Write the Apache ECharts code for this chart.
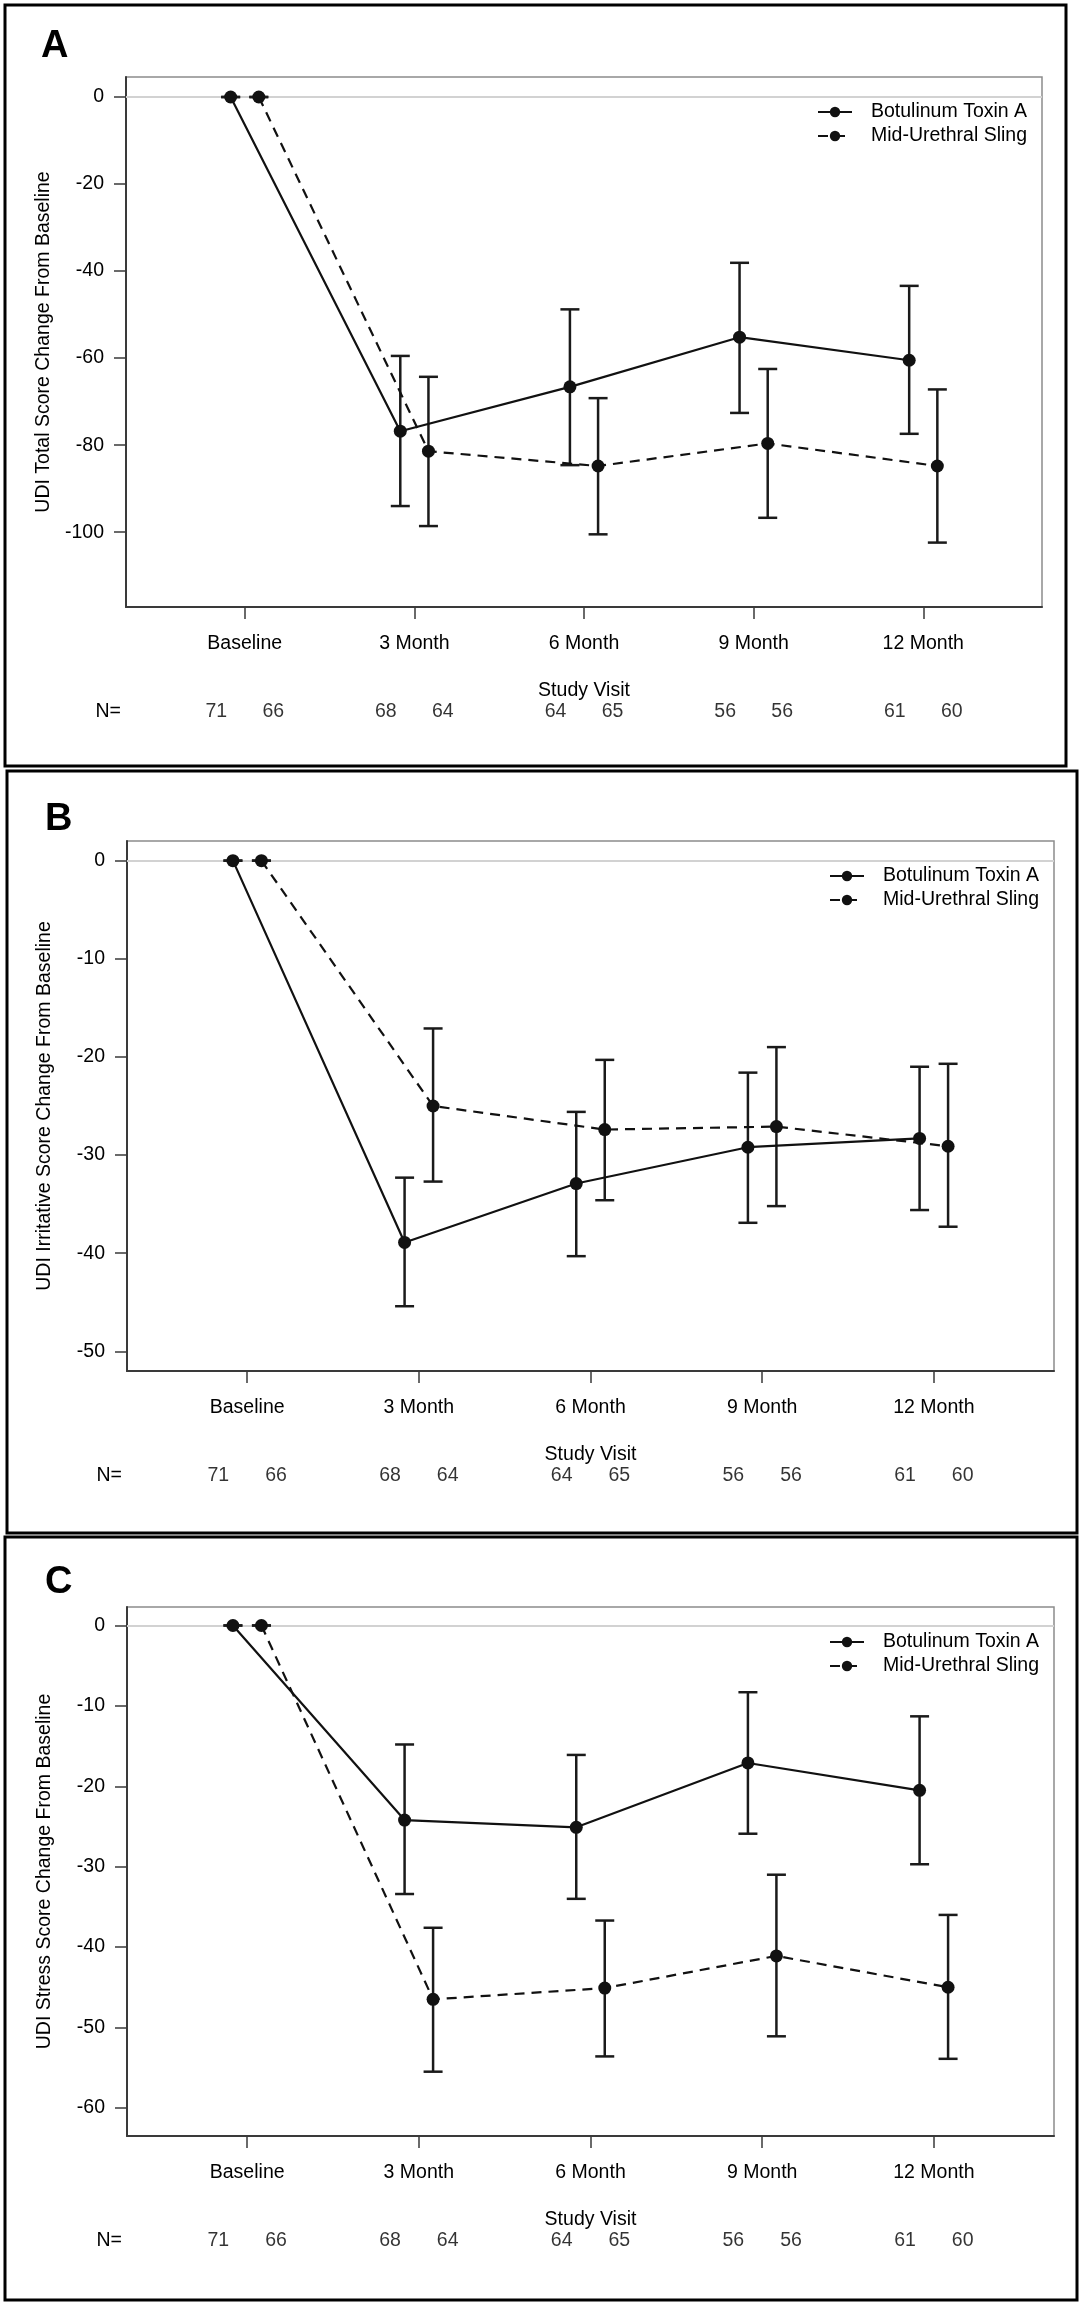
<!DOCTYPE html>
<html>
<head>
<meta charset="utf-8">
<script src="https://cdn.jsdelivr.net/npm/echarts@6/dist/echarts.min.js"></script>
<style>
  html, body { margin: 0; padding: 0; background: #fff; }
  #chart { width: 1080px; height: 2305px; }
</style>
</head>
<body>
<div id="chart"></div>
<script>
// ---------- data ----------
const visits = ['Baseline', '3 Month', '6 Month', '9 Month', '12 Month'];
const nBTA = [71, 68, 64, 56, 61];
const nMUS = [66, 64, 65, 56, 60];
const seriesNames = ['Botulinum Toxin A', 'Mid-Urethral Sling'];

// Panel A: UDI Total
const aBtaMean = [0, -76.8, -66.6, -55.2, -60.5];
const aBtaLow  = [0, -94.0, -84.6, -72.6, -77.4];
const aBtaHigh = [0, -59.5, -48.8, -38.1, -43.4];
const aMusMean = [0, -81.4, -84.8, -79.6, -84.8];
const aMusLow  = [0, -98.6, -100.5, -96.7, -102.4];
const aMusHigh = [0, -64.3, -69.2, -62.5, -67.2];
const aTicks = [0, -20, -40, -60, -80, -100];

// Panel B: UDI Irritative
const bBtaMean = [0, -38.9, -32.9, -29.2, -28.3];
const bBtaLow  = [0, -45.4, -40.3, -36.9, -35.6];
const bBtaHigh = [0, -32.3, -25.6, -21.6, -21.0];
const bMusMean = [0, -25.0, -27.4, -27.1, -29.1];
const bMusLow  = [0, -32.7, -34.6, -35.2, -37.3];
const bMusHigh = [0, -17.1, -20.3, -19.0, -20.7];
const bTicks = [0, -10, -20, -30, -40, -50];

// Panel C: UDI Stress
const cBtaMean = [0, -24.2, -25.1, -17.1, -20.5];
const cBtaLow  = [0, -33.4, -34.0, -25.9, -29.7];
const cBtaHigh = [0, -14.8, -16.1, -8.3, -11.3];
const cMusMean = [0, -46.5, -45.1, -41.1, -45.0];
const cMusLow  = [0, -55.5, -53.6, -51.1, -53.9];
const cMusHigh = [0, -37.6, -36.7, -31.0, -36.0];
const cTicks = [0, -10, -20, -30, -40, -50, -60];

// ---------- layout ----------
const FONT = "'Liberation Sans', Arial, Helvetica, sans-serif";
const FS = 19.5;
const TXT = '#000';
const DODGE = 0.083;
const NDODGE = 0.168;

const panels = [
  { letter: 'A', title: 'UDI Total Score Change From Baseline',
    btaM: aBtaMean, btaL: aBtaLow, btaH: aBtaHigh, musM: aMusMean, musL: aMusLow, musH: aMusHigh,
    ticks: aTicks, ymin: -117.2, ymax: 4.6,
    grid: { left: 126, top: 77, width: 916, height: 530 },
    frame: { x: 5, y: 5, w: 1061, h: 761 }, letterPos: [41, 47] },
  { letter: 'B', title: 'UDI Irritative Score Change From Baseline',
    btaM: bBtaMean, btaL: bBtaLow, btaH: bBtaHigh, musM: bMusMean, musL: bMusLow, musH: bMusHigh,
    ticks: bTicks, ymin: -52, ymax: 2,
    grid: { left: 127, top: 841, width: 927, height: 530 },
    frame: { x: 7, y: 771, w: 1070, h: 762 }, letterPos: [45, 820] },
  { letter: 'C', title: 'UDI Stress Score Change From Baseline',
    btaM: cBtaMean, btaL: cBtaLow, btaH: cBtaHigh, musM: cMusMean, musL: cMusLow, musH: cMusHigh,
    ticks: cTicks, ymin: -63.5, ymax: 2.3,
    grid: { left: 127, top: 1607, width: 927, height: 529 },
    frame: { x: 5, y: 1537, w: 1072, h: 763 }, letterPos: [45, 1583] }
];

const grids = [], xAxes = [], yAxes = [], series = [], legends = [], graphics = [];

function errRender(params, api) {
  const x = api.value(0);
  const lo = api.coord([x, api.value(1)]);
  const hi = api.coord([x, api.value(2)]);
  const cap = 9.5;
  const style = { stroke: '#1a1a1a', lineWidth: 2.5 };
  return {
    type: 'group',
    children: [
      { type: 'line', shape: { x1: lo[0], y1: lo[1], x2: hi[0], y2: hi[1] }, style },
      { type: 'line', shape: { x1: lo[0] - cap, y1: lo[1], x2: lo[0] + cap, y2: lo[1] }, style },
      { type: 'line', shape: { x1: hi[0] - cap, y1: hi[1], x2: hi[0] + cap, y2: hi[1] }, style }
    ]
  };
}

panels.forEach((p, k) => {
  const g = p.grid;
  const gi = grids.length;
  grids.push({ left: g.left, top: g.top, width: g.width, height: g.height,
    show: true, borderColor: '#8c8c8c', borderWidth: 1.5, backgroundColor: 'transparent' });
  // N row grid
  grids.push({ left: g.left, top: g.top + g.height + 95, width: g.width, height: 20, show: false });

  xAxes.push({
    gridIndex: gi, type: 'value', min: 0.3, max: 5.7,
    axisLine: { show: true, onZero: false, lineStyle: { color: '#3a3a3a', width: 2 } },
    axisTick: { show: true, customValues: [1, 2, 3, 4, 5], length: 12, lineStyle: { color: '#3a3a3a', width: 1.5 } },
    axisLabel: { customValues: [1, 2, 3, 4, 5], formatter: v => visits[Math.round(v) - 1] || '',
      margin: 27, fontSize: FS, color: TXT, fontFamily: FONT },
    splitLine: { show: false },
    name: 'Study Visit', nameLocation: 'middle', nameGap: 74,
    nameTextStyle: { fontSize: FS, color: TXT, fontFamily: FONT }
  });
  xAxes.push({ gridIndex: gi + 1, type: 'value', min: 0.3, max: 5.7, show: false });

  yAxes.push({
    gridIndex: gi, type: 'value', min: p.ymin, max: p.ymax,
    axisLine: { show: true, onZero: false, lineStyle: { color: '#3a3a3a', width: 2 } },
    axisTick: { show: true, customValues: p.ticks, length: 12, lineStyle: { color: '#3a3a3a', width: 1.5 } },
    axisLabel: { customValues: p.ticks, margin: 22, fontSize: FS, color: TXT, fontFamily: FONT },
    splitLine: { show: false },
    name: p.title, nameLocation: 'middle', nameRotate: 90, nameGap: 72,
    nameTextStyle: { fontSize: FS, color: TXT, fontFamily: FONT }
  });
  yAxes.push({
    gridIndex: gi + 1, type: 'category', data: ['N='],
    axisLine: { show: false }, axisTick: { show: false },
    axisLabel: { margin: 5, fontSize: FS, color: TXT, fontFamily: FONT }
  });

  const xi = xAxes.length - 2, yi = yAxes.length - 2;

  const mk = (means, off) => means.map((v, i) => [i + 1 + off, v]);
  const mkErr = (lo, hi, off) => lo.map((v, i) => [i + 1 + off, v, hi[i]]);

  series.push({
    type: 'custom', name: 'errBTA' + k, xAxisIndex: xi, yAxisIndex: yi,
    renderItem: errRender, data: mkErr(p.btaL, p.btaH, -DODGE), z: 3,
    encode: { x: 0, y: [1, 2] }, silent: true
  });
  series.push({
    type: 'custom', name: 'errMUS' + k, xAxisIndex: xi, yAxisIndex: yi,
    renderItem: errRender, data: mkErr(p.musL, p.musH, DODGE), z: 3,
    encode: { x: 0, y: [1, 2] }, silent: true
  });
  series.push({
    type: 'line', name: seriesNames[0], xAxisIndex: xi, yAxisIndex: yi,
    data: mk(p.btaM, -DODGE), symbol: 'circle', symbolSize: 13, z: 5,
    lineStyle: { color: '#111', width: 2.2, type: 'solid' },
    itemStyle: { color: '#111' }, animation: false,
    markLine: {
      silent: true, symbol: 'none', label: { show: false },
      lineStyle: { color: '#d2d2d2', width: 2, type: 'solid' },
      data: [{ yAxis: 0 }], z: 1
    }
  });
  series.push({
    type: 'line', name: seriesNames[1], xAxisIndex: xi, yAxisIndex: yi,
    data: mk(p.musM, DODGE), symbol: 'circle', symbolSize: 13, z: 5,
    lineStyle: { color: '#111', width: 2.2, type: [10, 7] },
    itemStyle: { color: '#111' }, animation: false
  });

  // N row labels
  const nData = [];
  nBTA.forEach((n, i) => nData.push([i + 1 - NDODGE, 0, n]));
  nMUS.forEach((n, i) => nData.push([i + 1 + NDODGE, 0, n]));
  series.push({
    type: 'scatter', name: 'N' + k, xAxisIndex: xi + 1, yAxisIndex: yi + 1,
    data: nData, symbolSize: 1, itemStyle: { color: 'rgba(0,0,0,0)' }, silent: true,
    label: { show: true, position: 'inside', formatter: d => String(d.value[2]),
      fontSize: FS, color: TXT, fontFamily: FONT, textBorderWidth: 0 }
  });

  legends.push({
    data: seriesNames, orient: 'vertical',
    left: g.left + g.width - 230, top: g.top + 20,
    itemWidth: 34, itemHeight: 13, itemGap: 4, selectedMode: false,
    textStyle: { fontSize: FS, color: TXT, fontFamily: FONT, lineHeight: 20, padding: [0, 0, 0, 14] }
  });

  graphics.push({
    type: 'rect', shape: { x: p.frame.x, y: p.frame.y, width: p.frame.w, height: p.frame.h },
    style: { fill: 'none', stroke: '#000', lineWidth: 3 }, z: 10
  });
  graphics.push({
    type: 'text', x: p.letterPos[0], y: p.letterPos[1],
    style: { text: p.letter, font: "bold 38px " + FONT, fill: '#000', textVerticalAlign: 'middle' }, z: 10
  });
});

const chart = echarts.init(document.getElementById('chart'), null, { renderer: 'canvas' });
chart.setOption({
  backgroundColor: '#fff',
  animation: false,
  grid: grids, xAxis: xAxes, yAxis: yAxes, series: series, legend: legends,
  graphic: graphics
});
</script>
</body>
</html>
